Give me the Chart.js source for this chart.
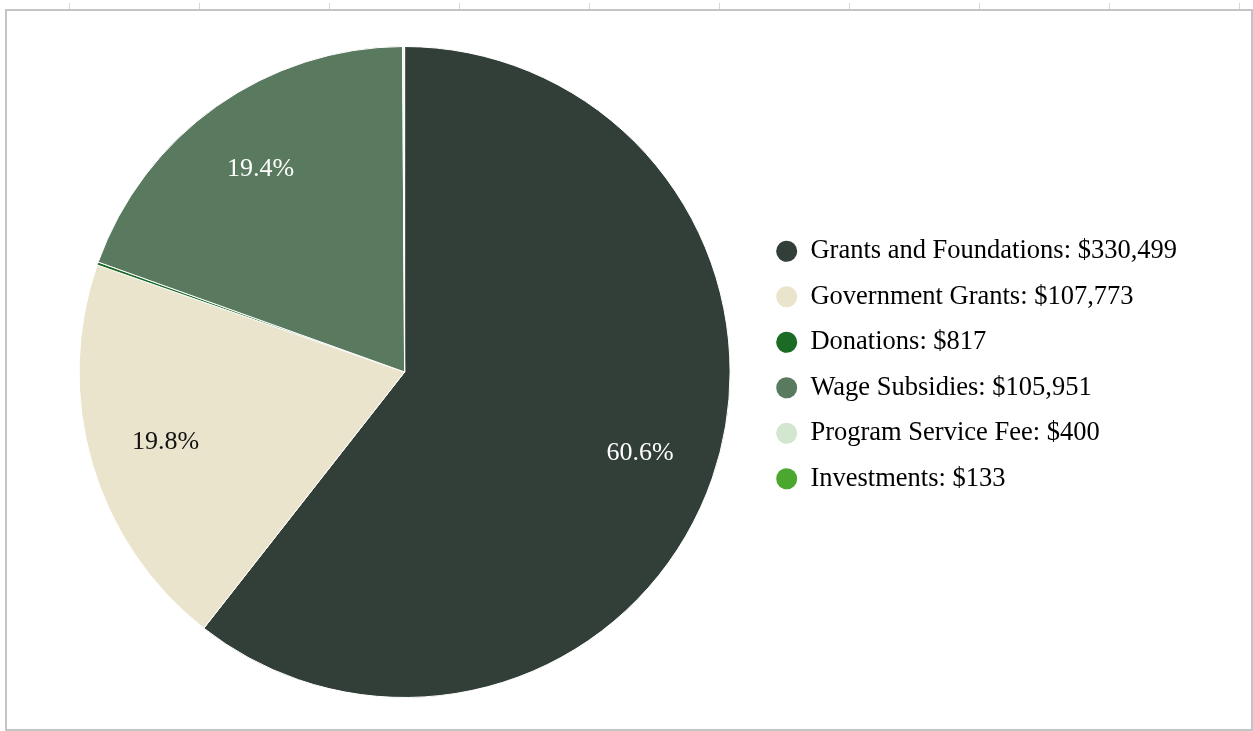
<!DOCTYPE html>
<html>
<head>
<meta charset="utf-8">
<script src="https://cdn.jsdelivr.net/npm/chart.js@4"></script>
<style>
    html, body { margin: 0; padding: 0; background: #fff; }
    body { width: 1253px; height: 731px; position: relative; overflow: hidden; }
    .ticks {
        position: absolute; left: 5px; top: 3px; width: 1248px; height: 7px;
        background: repeating-linear-gradient(to right, transparent 0, transparent 64px, #d6d6d6 64px, #d6d6d6 65px, transparent 65px, transparent 130px);
    }
    .frame {
        position: absolute; left: 5px; top: 9px; width: 1244px; height: 718px;
        border: 2px solid #c4c4c4;
    }
    .chart-box { position: absolute; left: 7px; top: 11px; width: 1243px; height: 717px; }
</style>
</head>
<body>
<div class="ticks"></div>
<div class="frame"></div>
<div class="chart-box"><canvas id="income-chart"></canvas></div>
<script>
const categorias = ['Grants and Foundations', 'Government Grants', 'Donations', 'Wage Subsidies', 'Program Service Fee', 'Investments'];
const montos = [330499, 107773, 817, 105951, 400, 133];
const colores = ['#323f38', '#ebe4cc', '#1b6b24', '#5a7a60', '#d3e6d0', '#4ca72f'];
const coloresEtiqueta = ['#ffffff', '#111111', '#ffffff', '#ffffff', '#111111', '#ffffff'];

const total = montos.reduce((a, b) => a + b, 0);
const fmt = new Intl.NumberFormat('en-US');
const fuente = '"Liberation Serif", "Times New Roman", serif';

// porcentajes dentro de cada porción
const etiquetasPorcentaje = {
    id: 'etiquetasPorcentaje',
    afterDatasetsDraw(chart) {
        const { ctx } = chart;
        const meta = chart.getDatasetMeta(0);
        ctx.save();
        ctx.font = '26px ' + fuente;
        ctx.textAlign = 'center';
        ctx.textBaseline = 'middle';
        meta.data.forEach((arc, i) => {
            const pct = montos[i] / total * 100;
            if (pct < 5) return;
            const { x, y, startAngle, endAngle, outerRadius } = arc.getProps(['x', 'y', 'startAngle', 'endAngle', 'outerRadius'], true);
            const mid = (startAngle + endAngle) / 2;
            const r = outerRadius * 0.765;
            ctx.fillStyle = coloresEtiqueta[i];
            ctx.fillText(pct.toFixed(1) + '%', x + Math.cos(mid) * r, y + Math.sin(mid) * r);
        });
        ctx.restore();
    }
};

// la leyenda queda un poco más arriba que el centro del pastel
const subirLeyenda = {
    id: 'subirLeyenda',
    afterLayout(chart) {
        if (!chart.legend) return;
        chart.legend.top -= 7;
        chart.legend.bottom -= 7;
    }
};

const ctx = document.getElementById('income-chart');
new Chart(ctx, {
    type: 'pie',
    data: {
        labels: categorias,
        datasets: [{
            data: montos,
            backgroundColor: colores,
            borderColor: '#ffffff',
            borderWidth: 1
        }]
    },
    options: {
        responsive: true,
        maintainAspectRatio: false,
        animation: false,
        layout: { padding: { top: 35, bottom: 30, left: 45, right: 63 } },
        plugins: {
            tooltip: { enabled: false },
            legend: {
                position: 'right',
                labels: {
                    usePointStyle: true,
                    pointStyle: 'circle',
                    pointStyleWidth: 21,
                    boxHeight: 15,
                    padding: 19,
                    color: '#222222',
                    font: { family: fuente, size: 26.5 },
                    generateLabels(chart) {
                        return categorias.map((c, i) => ({
                            text: c + ': $' + fmt.format(montos[i]),
                            fillStyle: colores[i],
                            strokeStyle: colores[i],
                            lineWidth: 0,
                            pointStyle: 'circle',
                            hidden: false,
                            index: i
                        }));
                    }
                }
            }
        }
    },
    plugins: [etiquetasPorcentaje, subirLeyenda]
});
</script>
</body>
</html>
